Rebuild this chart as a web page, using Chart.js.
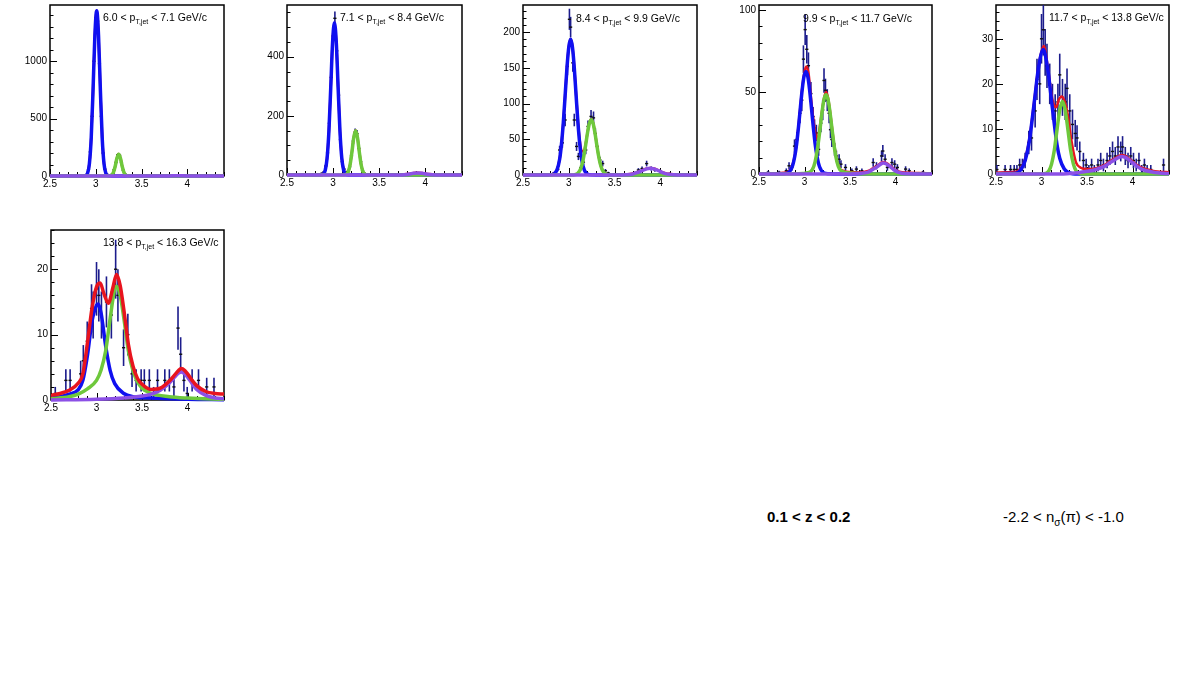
<!DOCTYPE html>
<html>
<head>
<meta charset="utf-8">
<script src="https://cdn.jsdelivr.net/npm/chart.js@4.4.1/dist/chart.umd.min.js"></script>
<style>
  body { margin: 0; background: #fff; width: 1181px; height: 677px; overflow: hidden; position: relative;
         font-family: "Liberation Sans", Arial, Helvetica, sans-serif; }
  canvas { position: absolute; }
  .ttl { position: absolute; font-size: 10.5px; line-height: 12px; white-space: nowrap; color: #000; }
  .ttl sub { font-size: 7px; vertical-align: -3px; line-height: 0; }
  .lbl { position: absolute; font-size: 15px; line-height: 18px; white-space: nowrap; color: #000; }
  .lbl sub { font-size: 10px; vertical-align: -4px; line-height: 0; }
</style>
</head>
<body>
<div class="lbl" style="left:767px;top:508px;font-weight:bold">0.1 &lt; z &lt; 0.2</div>
<div class="lbl" style="left:1003px;top:508px">-2.2 &lt; n<sub>σ</sub>(π) &lt; -1.0</div>
<script>
// ---- data ----
const ptBins = ['6.0', '7.1', '8.4', '9.9', '11.7', '13.8', '16.3'];
const xMajor = [2.5, 3, 3.5, 4];
const xTickLabels = ['2.5', '3', '3.5', '4'];
const yMax = [1490, 575, 238, 103, 37.5, 26];
const yMinorStep = [100, 50, 10, 10, 2, 2];
const yMajor = [[0, 500, 1000], [0, 200, 400], [0, 50, 100, 150, 200], [0, 50, 100], [0, 10, 20, 30], [0, 10, 20]];

// panel 1: 6.0 - 7.1
const p1Blue = [[2.5,0],[2.85,0],[2.89,4],[2.91,24],[2.93,106],[2.95,331],[2.97,749],[2.99,1223],[3.01,1440],[3.03,1223],[3.05,749],[3.07,331],[3.09,106],[3.11,24],[3.13,4],[3.17,0],[4.4,0]];
const p1Green = [[2.5,0],[3.13,0],[3.15,0.5],[3.17,5],[3.19,26],[3.21,78],[3.23,152],[3.25,190],[3.27,152],[3.29,78],[3.31,26],[3.33,5],[3.35,0.5],[3.4,0],[4.4,0]];
const p1Purple = [[2.5,0],[3.7,0],[3.85,1.5],[3.9,2],[3.95,1.5],[4.1,0],[4.4,0]];
const p1Red = [[2.5,1],[2.85,1],[2.89,5],[2.91,25],[2.93,107],[2.95,332],[2.97,750],[2.99,1224],[3.01,1441],[3.03,1224],[3.05,750],[3.07,332],[3.09,107],[3.11,26],[3.13,5],[3.15,2],[3.17,6],[3.19,27],[3.21,79],[3.23,153],[3.25,191],[3.27,153],[3.29,79],[3.31,27],[3.33,6],[3.35,2],[3.4,1],[4.4,1]];
const p1Data = [[2.82,2,1.4],[2.86,3,1.7],[2.88,5,2.2],[2.9,12,3.5],[2.92,55,7.4],[2.94,210,14.5],[2.96,520,23],[2.98,1000,32],[3.0,1380,37],[3.02,1350,37],[3.04,980,31],[3.06,520,23],[3.08,200,14],[3.1,60,7.7],[3.12,15,3.9],[3.14,6,2.4],[3.16,4,2],[3.18,16,4],[3.2,55,7.4],[3.22,118,11],[3.24,185,13.6],[3.26,180,13.4],[3.28,118,11],[3.3,50,7],[3.32,16,4],[3.34,4,2],[3.38,2,1.4],[3.5,1,1],[3.7,1,1],[3.88,2,1.4],[3.94,2,1.4]];

// panel 2: 7.1 - 8.4
const p2Blue = [[2.5,0],[2.86,0],[2.895,3.5],[2.915,16],[2.935,56],[2.955,148],[2.975,296],[2.995,449],[3.015,515],[3.035,449],[3.055,296],[3.075,148],[3.095,56],[3.115,16],[3.135,3.5],[3.17,0],[4.4,0]];
const p2Green = [[2.5,0],[3.1,0],[3.135,1],[3.145,2.5],[3.165,11],[3.185,34.5],[3.205,78],[3.225,127],[3.245,150],[3.265,127],[3.285,78],[3.305,34.5],[3.325,11],[3.345,2.5],[3.375,0.3],[3.42,0],[4.4,0]];
const p2Purple = [[2.5,0],[3.7,0],[3.8,2],[3.86,5],[3.92,7],[3.98,5],[4.04,2],[4.12,0.3],[4.2,0],[4.4,0]];
const p2Red = [[2.5,1],[2.86,1],[2.895,4.5],[2.915,17],[2.935,57],[2.955,149],[2.975,297],[2.995,450],[3.015,516],[3.035,450],[3.055,297],[3.075,149],[3.095,57],[3.115,17],[3.135,5],[3.145,4],[3.165,12],[3.185,35.5],[3.205,79],[3.225,128],[3.245,151],[3.265,128],[3.285,79],[3.305,35.5],[3.325,12],[3.345,3.5],[3.375,1.3],[3.42,1],[3.7,1],[3.8,3],[3.86,6],[3.92,8],[3.98,6],[4.04,3],[4.12,1.3],[4.2,1],[4.4,1]];
const p2Data = [[2.84,3,1.7],[2.88,6,2.4],[2.9,10,3.2],[2.92,30,5.5],[2.94,75,8.7],[2.96,175,13],[2.98,330,18],[3.0,470,22],[3.02,530,23],[3.04,420,20],[3.06,270,16],[3.08,120,11],[3.1,45,6.7],[3.12,20,4.5],[3.14,10,3.2],[3.16,12,3.5],[3.18,28,5.3],[3.2,65,8],[3.22,115,10.7],[3.24,145,12],[3.26,140,11.8],[3.28,90,9.5],[3.3,45,6.7],[3.32,15,3.9],[3.34,6,2.4],[3.38,3,1.7],[3.9,8,2.8],[3.95,6,2.4]];

// panel 3: 8.4 - 9.9
const p3Blue = [[2.5,0],[2.76,0],[2.82,0.5],[2.87,6.7],[2.9,22],[2.92,43],[2.94,73],[2.96,111],[2.98,150],[3.0,179],[3.02,190],[3.04,179],[3.06,150],[3.08,111],[3.1,73],[3.12,43],[3.14,22],[3.17,6.7],[3.22,0.5],[3.3,0],[4.4,0]];
const p3Green = [[2.5,0],[3.0,0],[3.045,0.1],[3.095,1.9],[3.125,7.2],[3.145,14.8],[3.165,26.9],[3.185,42.8],[3.205,59.5],[3.225,72.5],[3.245,77.5],[3.265,72.5],[3.285,59.5],[3.305,42.8],[3.325,26.9],[3.345,14.8],[3.365,7.2],[3.395,1.9],[3.445,0.1],[3.5,0],[4.4,0]];
const p3Purple = [[2.5,0],[3.55,0],[3.62,0.3],[3.7,1.5],[3.75,3.5],[3.8,6],[3.85,8.6],[3.89,9.4],[3.93,8.6],[3.98,6],[4.03,3],[4.08,1.2],[4.15,0.3],[4.22,0],[4.4,0]];
const p3Red = [[2.5,0.5],[2.76,0.5],[2.82,1],[2.87,7.2],[2.9,22.5],[2.92,43.5],[2.94,73.5],[2.96,111.5],[2.98,150.5],[3.0,179.5],[3.02,190.5],[3.04,179.5],[3.06,150.5],[3.08,112],[3.1,75],[3.12,48],[3.14,34],[3.165,33],[3.185,44],[3.205,60],[3.225,73],[3.245,78],[3.265,73],[3.285,60],[3.305,43.3],[3.325,27.4],[3.345,15.3],[3.365,7.7],[3.395,2.4],[3.445,0.6],[3.55,0.5],[3.62,0.8],[3.7,2],[3.75,4],[3.8,6.5],[3.85,9.1],[3.89,9.9],[3.93,9.1],[3.98,6.5],[4.03,3.5],[4.08,1.7],[4.15,0.8],[4.22,0.5],[4.4,0.5]];
const p3Data = [[2.84,3,1.7],[2.88,8,2.8],[2.9,35,5.9],[2.93,45,6.7],[2.96,77,8.8],[2.985,152,12.3],[3.007,218,14.8],[3.02,207,14.4],[3.044,157,12.5],[3.06,77,8.8],[3.085,40,6.3],[3.105,26,5.1],[3.13,10,3.2],[3.16,18,4.2],[3.185,35,5.9],[3.21,68,8.2],[3.243,82,9],[3.27,80,8.9],[3.29,58,7.6],[3.31,40,6.3],[3.34,21,4.6],[3.37,16,4],[3.4,6,2.4],[3.43,3,1.7],[3.5,1,1],[3.62,1,1],[3.72,3,1.7],[3.76,7,2.6],[3.8,9,3],[3.85,16,4],[3.9,9,3],[3.94,7,2.6],[4.0,5,2.2],[4.1,2,1.4],[4.2,1,1]];

// panel 4: 9.9 - 11.7
const p4Blue = [[2.5,0],[2.7,0],[2.765,0.2],[2.815,0.6],[2.865,4.4],[2.895,11.4],[2.915,19.1],[2.935,29.3],[2.955,40.8],[2.975,51.7],[2.995,59.6],[3.015,62.5],[3.035,59.6],[3.055,51.7],[3.075,40.8],[3.095,29.3],[3.115,19.1],[3.135,11.4],[3.165,4.4],[3.215,0.6],[3.265,0.2],[3.35,0],[4.4,0]];
const p4Green = [[2.5,0],[2.9,0],[2.98,0.3],[3.036,0.8],[3.086,2.6],[3.116,7.4],[3.136,13.2],[3.156,21],[3.176,30.2],[3.196,39.2],[3.216,45.9],[3.236,48.3],[3.256,45.9],[3.276,39.2],[3.296,30.2],[3.316,21],[3.336,13.2],[3.356,7.4],[3.386,2.8],[3.436,1.2],[3.5,0.6],[3.6,0.2],[3.7,0],[4.4,0]];
const p4Purple = [[2.5,0],[3.5,0],[3.6,0.3],[3.7,1.2],[3.75,2.8],[3.8,4.5],[3.83,5.8],[3.865,6.7],[3.9,6.1],[3.94,4.5],[3.98,2.6],[4.02,1.3],[4.07,0.5],[4.15,0.1],[4.25,0],[4.4,0]];
const p4Red = [[2.5,0.5],[2.7,0.5],[2.765,0.8],[2.815,1.2],[2.865,5],[2.895,12],[2.915,19.7],[2.935,30],[2.955,41.5],[2.975,52.5],[2.995,61],[3.02,65.5],[3.045,61],[3.065,50],[3.085,39],[3.105,30],[3.125,22.5],[3.14,21],[3.156,24.5],[3.176,32],[3.196,40],[3.216,46.6],[3.236,50],[3.256,47],[3.276,40],[3.296,31],[3.316,21.7],[3.336,13.8],[3.356,8],[3.386,3.4],[3.436,1.8],[3.5,1.2],[3.6,0.9],[3.7,1.8],[3.75,3.4],[3.8,5.1],[3.83,6.4],[3.865,7.3],[3.9,6.7],[3.94,5.1],[3.98,3.2],[4.02,1.9],[4.07,1.1],[4.15,0.7],[4.25,0.6],[4.4,0.5]];
const p4Data = [[2.6,1,1],[2.72,1,1],[2.8,2,1.4],[2.83,5,2.2],[2.86,4,2],[2.89,17,4.1],[2.915,21,4.6],[2.95,37,6.1],[2.97,45,6.7],[2.988,70,8.4],[3.007,88,9.4],[3.025,76,8.7],[3.043,66,8.1],[3.07,49,7],[3.094,35,5.9],[3.11,28,5.3],[3.13,25,5],[3.155,15,3.9],[3.18,31,5.6],[3.2,39,6.2],[3.214,57,7.5],[3.23,51,7.1],[3.25,45,6.7],[3.27,37,6.1],[3.285,27,5.2],[3.3,21,4.6],[3.33,15,3.9],[3.35,11,3.3],[3.38,9,3],[3.4,6,2.4],[3.45,4,2],[3.52,2,1.4],[3.57,3,1.7],[3.63,2,1.4],[3.68,1,1],[3.754,7,2.6],[3.79,5,2.2],[3.846,11,3.3],[3.86,14,3.7],[3.885,9,3],[3.91,4,2],[3.96,7,2.6],[3.99,6,2.4],[4.02,4,2],[4.11,3,1.7],[4.15,2,1.4],[4.3,1,1]];

// panel 5: 11.7 - 13.8
const p5Blue = [[2.5,0],[2.62,0.1],[2.72,0.19],[2.77,0.87],[2.82,3],[2.87,7.9],[2.92,15.9],[2.97,24],[3.02,27.6],[3.07,23],[3.1,18],[3.12,14.5],[3.15,9.5],[3.17,6.5],[3.2,3.5],[3.25,1.1],[3.3,0.3],[3.4,0],[4.4,0]];
const p5Green = [[2.5,0],[2.98,0],[3.03,0.06],[3.08,0.7],[3.11,2.2],[3.14,5.2],[3.17,9.8],[3.2,14.2],[3.23,16.1],[3.26,14.2],[3.29,9.8],[3.32,5.2],[3.35,2.2],[3.38,0.7],[3.43,0.06],[3.5,0],[4.4,0]];
const p5Purple = [[2.5,0],[3.2,0],[3.4,0.3],[3.5,0.6],[3.6,1.0],[3.7,1.8],[3.75,2.5],[3.8,3.1],[3.85,3.7],[3.88,3.9],[3.92,3.7],[3.95,3.3],[4.0,2.5],[4.05,1.7],[4.1,1.1],[4.2,0.5],[4.3,0.2],[4.4,0.1]];
const p5Red = [[2.5,0.3],[2.62,0.4],[2.72,0.5],[2.77,1.2],[2.82,3.3],[2.87,8.2],[2.92,16.2],[2.97,24.3],[3.025,28.4],[3.07,23.5],[3.1,19],[3.12,16.5],[3.14,15.2],[3.16,14.8],[3.19,16.5],[3.22,17.2],[3.25,16.3],[3.29,13],[3.32,8.5],[3.35,5],[3.38,2.5],[3.43,1.4],[3.5,1.1],[3.6,1.3],[3.7,2.1],[3.75,2.8],[3.8,3.4],[3.85,4.0],[3.88,4.2],[3.92,4.0],[3.95,3.6],[4.0,2.8],[4.05,2.0],[4.1,1.4],[4.2,0.8],[4.3,0.5],[4.4,0.4]];
const p5Data = [[2.51,1,1],[2.6,1,1],[2.66,1,1],[2.7,1,1],[2.73,1,1],[2.76,2,1.4],[2.79,2,1.4],[2.82,3,1.7],[2.86,7,2.6],[2.89,8,2.8],[2.93,14,3.7],[2.95,21,4.6],[2.98,20,4.5],[3.0,30,5.5],[3.02,32,5.7],[3.04,27,5.2],[3.06,24,4.9],[3.09,20,4.5],[3.12,16,4],[3.15,14,3.7],[3.18,16,4],[3.2,22,4.7],[3.23,17,4.1],[3.26,16,4],[3.28,19,4.4],[3.31,14,3.7],[3.34,11,3.3],[3.37,9,3],[3.39,8,2.8],[3.42,5,2.2],[3.46,3,1.7],[3.49,2,1.4],[3.52,1,1],[3.55,2,1.4],[3.58,1,1],[3.62,2,1.4],[3.65,3,1.7],[3.68,2,1.4],[3.72,3,1.7],[3.75,4,2],[3.78,5,2.2],[3.81,4,2],[3.84,6,2.4],[3.87,5,2.2],[3.89,6,2.4],[3.92,4,2],[3.95,3,1.7],[3.98,4,2],[4.01,3,1.7],[4.04,2,1.4],[4.07,3,1.7],[4.1,1,1],[4.13,2,1.4],[4.16,1,1],[4.2,1,1],[4.34,2,1.4]];

// panel 6: 13.8 - 16.3
const p6Blue = [[2.5,0.3],[2.6,0.5],[2.7,0.9],[2.8,1.6],[2.85,3],[2.9,6.8],[2.95,12],[3.0,14.5],[3.02,14.7],[3.05,13.3],[3.1,8.3],[3.15,4.5],[3.2,2.5],[3.3,1.0],[3.4,0.5],[3.6,0.3],[4.0,0.1],[4.4,0.05]];
const p6Green = [[2.5,0.2],[2.7,0.5],[2.8,0.9],[2.9,1.7],[3.0,3],[3.05,4.6],[3.1,7.5],[3.15,12.5],[3.2,17],[3.22,17.4],[3.26,16],[3.3,12.5],[3.35,7.5],[3.4,4.5],[3.45,2.8],[3.5,1.8],[3.6,1.0],[3.8,0.5],[4.0,0.3],[4.4,0.1]];
const p6Purple = [[2.5,0],[3.0,0.1],[3.3,0.3],[3.5,0.6],[3.6,0.9],[3.7,1.5],[3.8,2.6],[3.85,3.4],[3.9,4.1],[3.93,4.3],[3.97,4.0],[4.0,3.5],[4.05,2.5],[4.1,1.6],[4.2,0.7],[4.3,0.3],[4.4,0.2]];
const p6Red = [[2.5,0.7],[2.6,1.0],[2.7,1.5],[2.8,2.6],[2.85,4],[2.9,8.7],[2.95,14],[3.0,17.3],[3.04,17.9],[3.08,16.3],[3.13,14.8],[3.18,17.2],[3.22,19.2],[3.26,17.5],[3.3,13.8],[3.35,8.5],[3.4,5.2],[3.45,3.3],[3.5,2.4],[3.6,1.6],[3.7,1.8],[3.8,2.9],[3.85,3.7],[3.9,4.5],[3.93,4.8],[3.97,4.5],[4.0,4.0],[4.05,3.0],[4.1,2.2],[4.2,1.3],[4.3,1.0],[4.4,0.9]];
const p6Data = [[2.547,1,1],[2.663,3,1.7],[2.71,3,1.7],[2.826,4,2],[2.855,6,2.4],[2.898,9,3],[2.945,14,3.7],[2.963,13,3.6],[3.0,17,4.1],[3.025,16,4],[3.054,13,3.6],[3.109,15,3.9],[3.163,13,3.6],[3.21,20,4.5],[3.235,16,4],[3.297,8,2.8],[3.344,10,3.2],[3.39,4,2],[3.435,3,1.7],[3.49,3,1.7],[3.525,3,1.7],[3.58,3,1.7],[3.627,1,1],[3.67,3,1.7],[3.75,3,1.7],[3.8,3,1.7],[3.85,2,1.4],[3.895,11,3.3],[3.924,7,2.6],[3.96,3,1.7],[3.996,1,1],[4.05,3,1.7],[4.12,3,1.7],[4.21,2,1.4],[4.29,2,1.4]];

// ---- layout / style ----
const FONT = '"Liberation Sans", Arial, Helvetica, sans-serif';
const frames = [[50,5,174,171],[287,5,175,170],[523,5,174,170],[759,5,173,169],[996,5,173,169],[51,230,173,170]]; // left, top, w, h of plot frame
const titlePos = [[103,11],[340,11],[576,11.5],[803,12],[1049,11],[103,236]];
const COL = { blue: '#1010f0', green: '#6ec83c', purple: '#8c50e6', red: '#e8141e', data: '#1c1c8c' };

const curves = [
  [p1Blue, p1Green, p1Purple, p1Red],
  [p2Blue, p2Green, p2Purple, p2Red],
  [p3Blue, p3Green, p3Purple, p3Red],
  [p4Blue, p4Green, p4Purple, p4Red],
  [p5Blue, p5Green, p5Purple, p5Red],
  [p6Blue, p6Green, p6Purple, p6Red]
];
const points = [p1Data, p2Data, p3Data, p4Data, p5Data, p6Data];

function stepTicks(min, max, step) {
  const out = [];
  for (let i = 0; min + i * step <= max + 1e-9; i++) out.push(+(min + i * step).toFixed(4));
  return out;
}
const isIn = (list, v) => list.some(m => Math.abs(m - v) < 1e-6);

// frame + inward ticks (ROOT look) and error bars
const rootStyle = {
  id: 'rootStyle',
  beforeDatasetsDraw(chart, args, opts) {
    const { ctx, chartArea: a, scales: { x, y } } = chart;
    ctx.save();
    ctx.strokeStyle = '#000';
    ctx.lineWidth = 1;
    x.ticks.forEach(t => {
      const px = Math.round(x.getPixelForValue(t.value)) + 0.5;
      const len = isIn(xMajor, t.value) ? 7 : 4;
      ctx.beginPath(); ctx.moveTo(px, a.bottom); ctx.lineTo(px, a.bottom - len); ctx.stroke();
    });
    y.ticks.forEach(t => {
      const py = Math.round(y.getPixelForValue(t.value)) + 0.5;
      const len = isIn(opts.yMajor, t.value) ? 7 : 3.5;
      ctx.beginPath(); ctx.moveTo(a.left, py); ctx.lineTo(a.left + len, py); ctx.stroke();
    });
    ctx.lineWidth = 1.5;
    ctx.strokeRect(a.left, a.top, a.right - a.left, a.bottom - a.top);
    ctx.restore();
  },
  beforeDatasetDraw(chart, args) {
    const ds = chart.data.datasets[args.index];
    if (!ds.errorBars) return;
    const { ctx, chartArea: a, scales: { x, y } } = chart;
    ctx.save();
    ctx.beginPath(); ctx.rect(a.left, a.top, a.right - a.left, a.bottom - a.top); ctx.clip();
    ctx.strokeStyle = COL.data;
    ctx.lineWidth = 1.6;
    ds.data.forEach(p => {
      const px = x.getPixelForValue(p.x);
      ctx.beginPath();
      ctx.moveTo(px, y.getPixelForValue(p.y - p.e));
      ctx.lineTo(px, y.getPixelForValue(p.y + p.e));
      ctx.stroke();
    });
    ctx.restore();
  }
};

function curve(arr, color, width, order) {
  return {
    data: arr.map(p => ({ x: p[0], y: p[1] })),
    showLine: true, borderColor: color, borderWidth: width, pointRadius: 0,
    cubicInterpolationMode: 'monotone', fill: false, order: order,
    clip: { left: 0, top: 0, right: 0, bottom: 3 }
  };
}

frames.forEach((f, i) => {
  const [fl, ft, fw, fh] = f;
  const canvas = document.createElement('canvas');
  canvas.width = fw + 55;
  canvas.height = fh + 30;
  canvas.style.left = (fl - 45) + 'px';
  canvas.style.top = (ft - 10) + 'px';
  document.body.appendChild(canvas);

  const [blue, green, purple, red] = curves[i];
  const redOnTop = i === 5;
  new Chart(canvas.getContext('2d'), {
    type: 'scatter',
    data: {
      datasets: [
        {
          data: points[i].map(p => ({ x: p[0], y: p[1], e: p[2] })),
          errorBars: true, order: 10,
          pointStyle: 'line', pointRadius: 1.6, borderColor: '#111', borderWidth: 1.4, backgroundColor: '#111'
        },
        curve(red, COL.red, redOnTop ? 3.5 : 2.5, redOnTop ? 0 : 5),
        curve(blue, COL.blue, 3.5, 3),
        curve(green, COL.green, 3.5, 2),
        curve(purple, COL.purple, 3.5, 1)
      ]
    },
    options: {
      responsive: false,
      animation: false,
      devicePixelRatio: 1,
      layout: { padding: { left: 0, right: 10, top: 10, bottom: 0 } },
      plugins: { legend: { display: false }, tooltip: { enabled: false }, rootStyle: { yMajor: yMajor[i] } },
      scales: {
        x: {
          type: 'linear', min: 2.5, max: 4.4,
          grid: { display: false, drawTicks: false }, border: { display: false },
          afterBuildTicks: s => { s.ticks = stepTicks(2.5, 4.4, 0.1).map(v => ({ value: v })); },
          afterFit: s => { s.height = 20; },
          ticks: {
            autoSkip: false, maxRotation: 0, padding: 2, color: '#000',
            font: { family: FONT, size: 10 },
            callback: v => { const k = xMajor.findIndex(m => Math.abs(m - v) < 1e-6); return k >= 0 ? xTickLabels[k] : ''; }
          }
        },
        y: {
          type: 'linear', min: 0, max: yMax[i],
          grid: { display: false, drawTicks: false }, border: { display: false },
          afterBuildTicks: s => { s.ticks = stepTicks(0, yMax[i], yMinorStep[i]).map(v => ({ value: v })); },
          afterFit: s => { s.width = 45; },
          ticks: {
            autoSkip: false, padding: 3, color: '#000',
            font: { family: FONT, size: 10 },
            callback: v => isIn(yMajor[i], v) ? String(v) : ''
          }
        }
      }
    },
    plugins: [rootStyle]
  });

  // pT,jet bin title
  const t = document.createElement('div');
  t.className = 'ttl';
  t.style.left = titlePos[i][0] + 'px';
  t.style.top = titlePos[i][1] + 'px';
  t.innerHTML = ptBins[i] + ' &lt; p<sub>T,jet</sub> &lt; ' + ptBins[i + 1] + ' GeV/c';
  document.body.appendChild(t);
});
</script>
</body>
</html>
